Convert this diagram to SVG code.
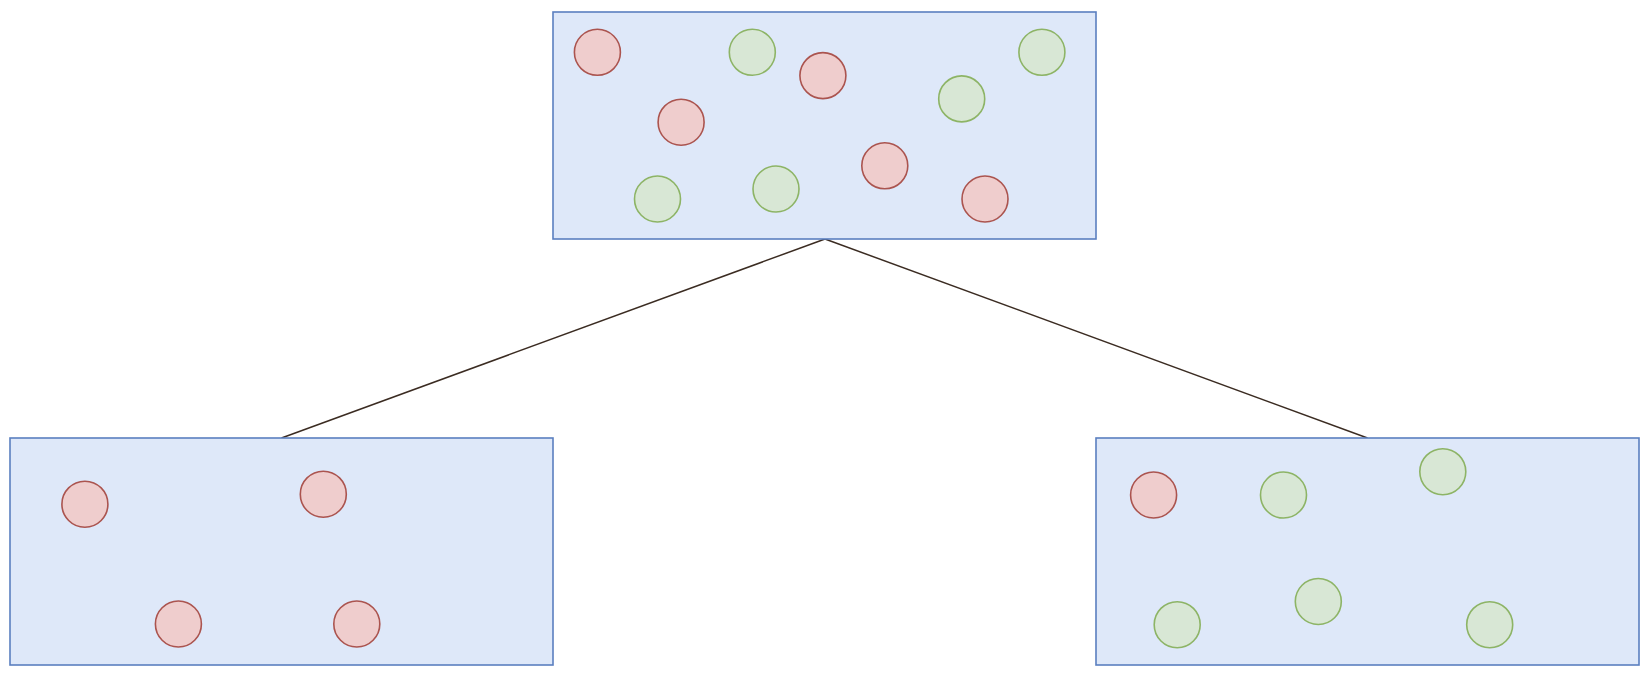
<svg xmlns="http://www.w3.org/2000/svg" width="1650" height="678" viewBox="0 0 1650 678">
<style>
.box{fill:#dee8f9;stroke:#5a7fc0;stroke-width:1.6}
.r{fill:#efcdcd;stroke:#ab544f;stroke-width:1.6}
.g{fill:#d8e7d5;stroke:#8db466;stroke-width:1.6}
.edge{stroke:#3b2c22;stroke-width:1.5;fill:none}
</style>
<rect width="1650" height="678" fill="#ffffff"/>
<g id="connectors">
<line class="edge" x1="825" y1="239" x2="281.5" y2="438"/>
<line class="edge" x1="825" y1="239" x2="1367.5" y2="438"/>
</g>
<g id="top">
<rect class="box" x="553" y="12" width="543" height="227"/>
<circle class="r" cx="597.4" cy="52.3" r="23"/>
<circle class="g" cx="752.3" cy="52.3" r="23"/>
<circle class="r" cx="822.9" cy="75.6" r="23"/>
<circle class="g" cx="1041.9" cy="52.3" r="23"/>
<circle class="g" cx="961.7" cy="98.9" r="23"/>
<circle class="r" cx="681.1" cy="122.2" r="23"/>
<circle class="r" cx="884.8" cy="165.8" r="23"/>
<circle class="g" cx="657.5" cy="199" r="23"/>
<circle class="g" cx="776" cy="189" r="23"/>
<circle class="r" cx="985" cy="199" r="23"/>
</g>
<g id="left">
<rect class="box" x="10" y="438" width="543" height="227"/>
<circle class="r" cx="84.9" cy="504.2" r="23"/>
<circle class="r" cx="323.3" cy="494.2" r="23"/>
<circle class="r" cx="178.4" cy="624" r="23"/>
<circle class="r" cx="356.8" cy="624" r="23"/>
</g>
<g id="right">
<rect class="box" x="1096" y="438" width="543" height="227"/>
<circle class="r" cx="1153.6" cy="495" r="23"/>
<circle class="g" cx="1283.5" cy="495" r="23"/>
<circle class="g" cx="1442.8" cy="471.7" r="23"/>
<circle class="g" cx="1177.2" cy="624.7" r="23"/>
<circle class="g" cx="1318.3" cy="601.5" r="23"/>
<circle class="g" cx="1489.7" cy="624.7" r="23"/>
</g>
</svg>
